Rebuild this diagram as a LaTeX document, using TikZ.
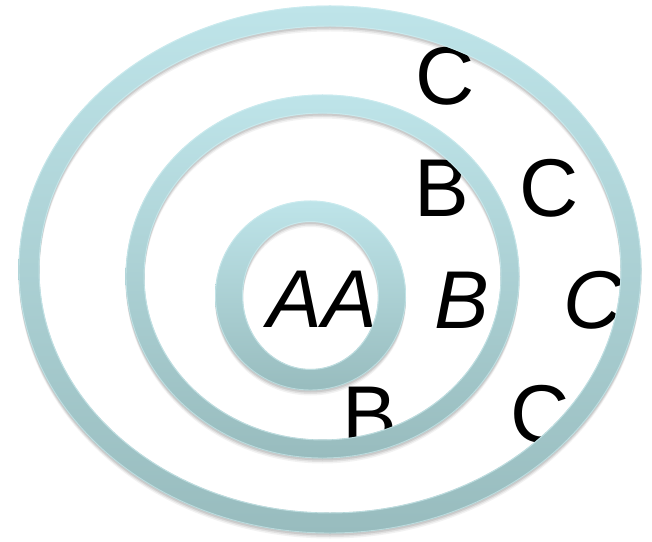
\documentclass[tikz,border=0pt]{standalone}
\usepackage{fontspec}
\setmainfont{Liberation Sans}
\begin{document}
\begin{tikzpicture}[x=1pt,y=1pt,
  letter/.style={inner sep=0pt, font=\fontsize{82}{82}\selectfont},
  iletter/.style={letter, font=\fontsize{82}{82}\selectfont\itshape},
  ringfill/.style={even odd rule, top color=ringtop, bottom color=ringbot, draw=none},
  ringshadow/.style={even odd rule, fill=black, draw=none},
  ringedge/.style={draw=ringhi, line width=0.9pt}
]
\definecolor{ringtop}{HTML}{BEE4E9}
\definecolor{ringbot}{HTML}{98BCBE}
\definecolor{ringhi}{HTML}{D3F0F3}
\useasboundingbox (0,0) rectangle (652,541);
\fill[white] (0,0) rectangle (652,541);

% letters (under the rings)
\node[letter]  (c1) at (445,465) {C};
\node[letter]  (b1) at (442,353) {B};
\node[letter]  (c2) at (549,353) {C};
\node[iletter] (aa) at (322,242) {AA};
\node[iletter] (b2) at (462,241) {B};
\node[iletter] (c3) at (593,241) {C};
\node[letter]  (b3) at (370,126) {B};
\node[letter]  (c4) at (540,127) {C};

% ring macro-like drawing: shadows then ring
% outer ring
\foreach \dy/\op in {-5/0.05,-3.5/0.07,-2/0.09} {
  \path[ringshadow, opacity=\op] (330,271.5+\dy) ellipse [x radius=311.5, y radius=264]
        (330,271.5+\dy) ellipse [x radius=290.5, y radius=243];
}
\path[ringfill] (330,271.5) ellipse [x radius=311.5, y radius=264]
      (330,271.5) ellipse [x radius=290.5, y radius=243];
\draw[ringedge, opacity=0.6] (330,271.5) ellipse [x radius=311, y radius=263.5];
\draw[ringedge, opacity=0.6] (330,271.5) ellipse [x radius=291, y radius=243.5];

% middle ring
\foreach \dy/\op in {-5/0.05,-3.5/0.07,-2/0.09} {
  \path[ringshadow, opacity=\op] (322.5,264.5+\dy) ellipse [x radius=197, y radius=182]
        (322.5,264.5+\dy) ellipse [x radius=178, y radius=163];
}
\path[ringfill] (322.5,264.5) ellipse [x radius=197, y radius=182]
      (322.5,264.5) ellipse [x radius=178, y radius=163];
\draw[ringedge, opacity=0.6] (322.5,264.5) ellipse [x radius=196.5, y radius=181.5];
\draw[ringedge, opacity=0.6] (322.5,264.5) ellipse [x radius=178.5, y radius=163.5];

% inner ring
\foreach \dy/\op in {-5/0.05,-3.5/0.07,-2/0.09} {
  \path[ringshadow, opacity=\op] (310.5,245.5+\dy) ellipse [x radius=95.5, y radius=95]
        (310.5,245.5+\dy) ellipse [x radius=67.5, y radius=73.5];
}
\path[ringfill] (310.5,245.5) ellipse [x radius=95.5, y radius=95]
      (310.5,245.5) ellipse [x radius=67.5, y radius=73.5];
\draw[ringedge, opacity=0.6] (310.5,245.5) ellipse [x radius=95, y radius=94.5];
\draw[ringedge, opacity=0.6] (310.5,245.5) ellipse [x radius=68, y radius=74];
\end{tikzpicture}
\end{document}
